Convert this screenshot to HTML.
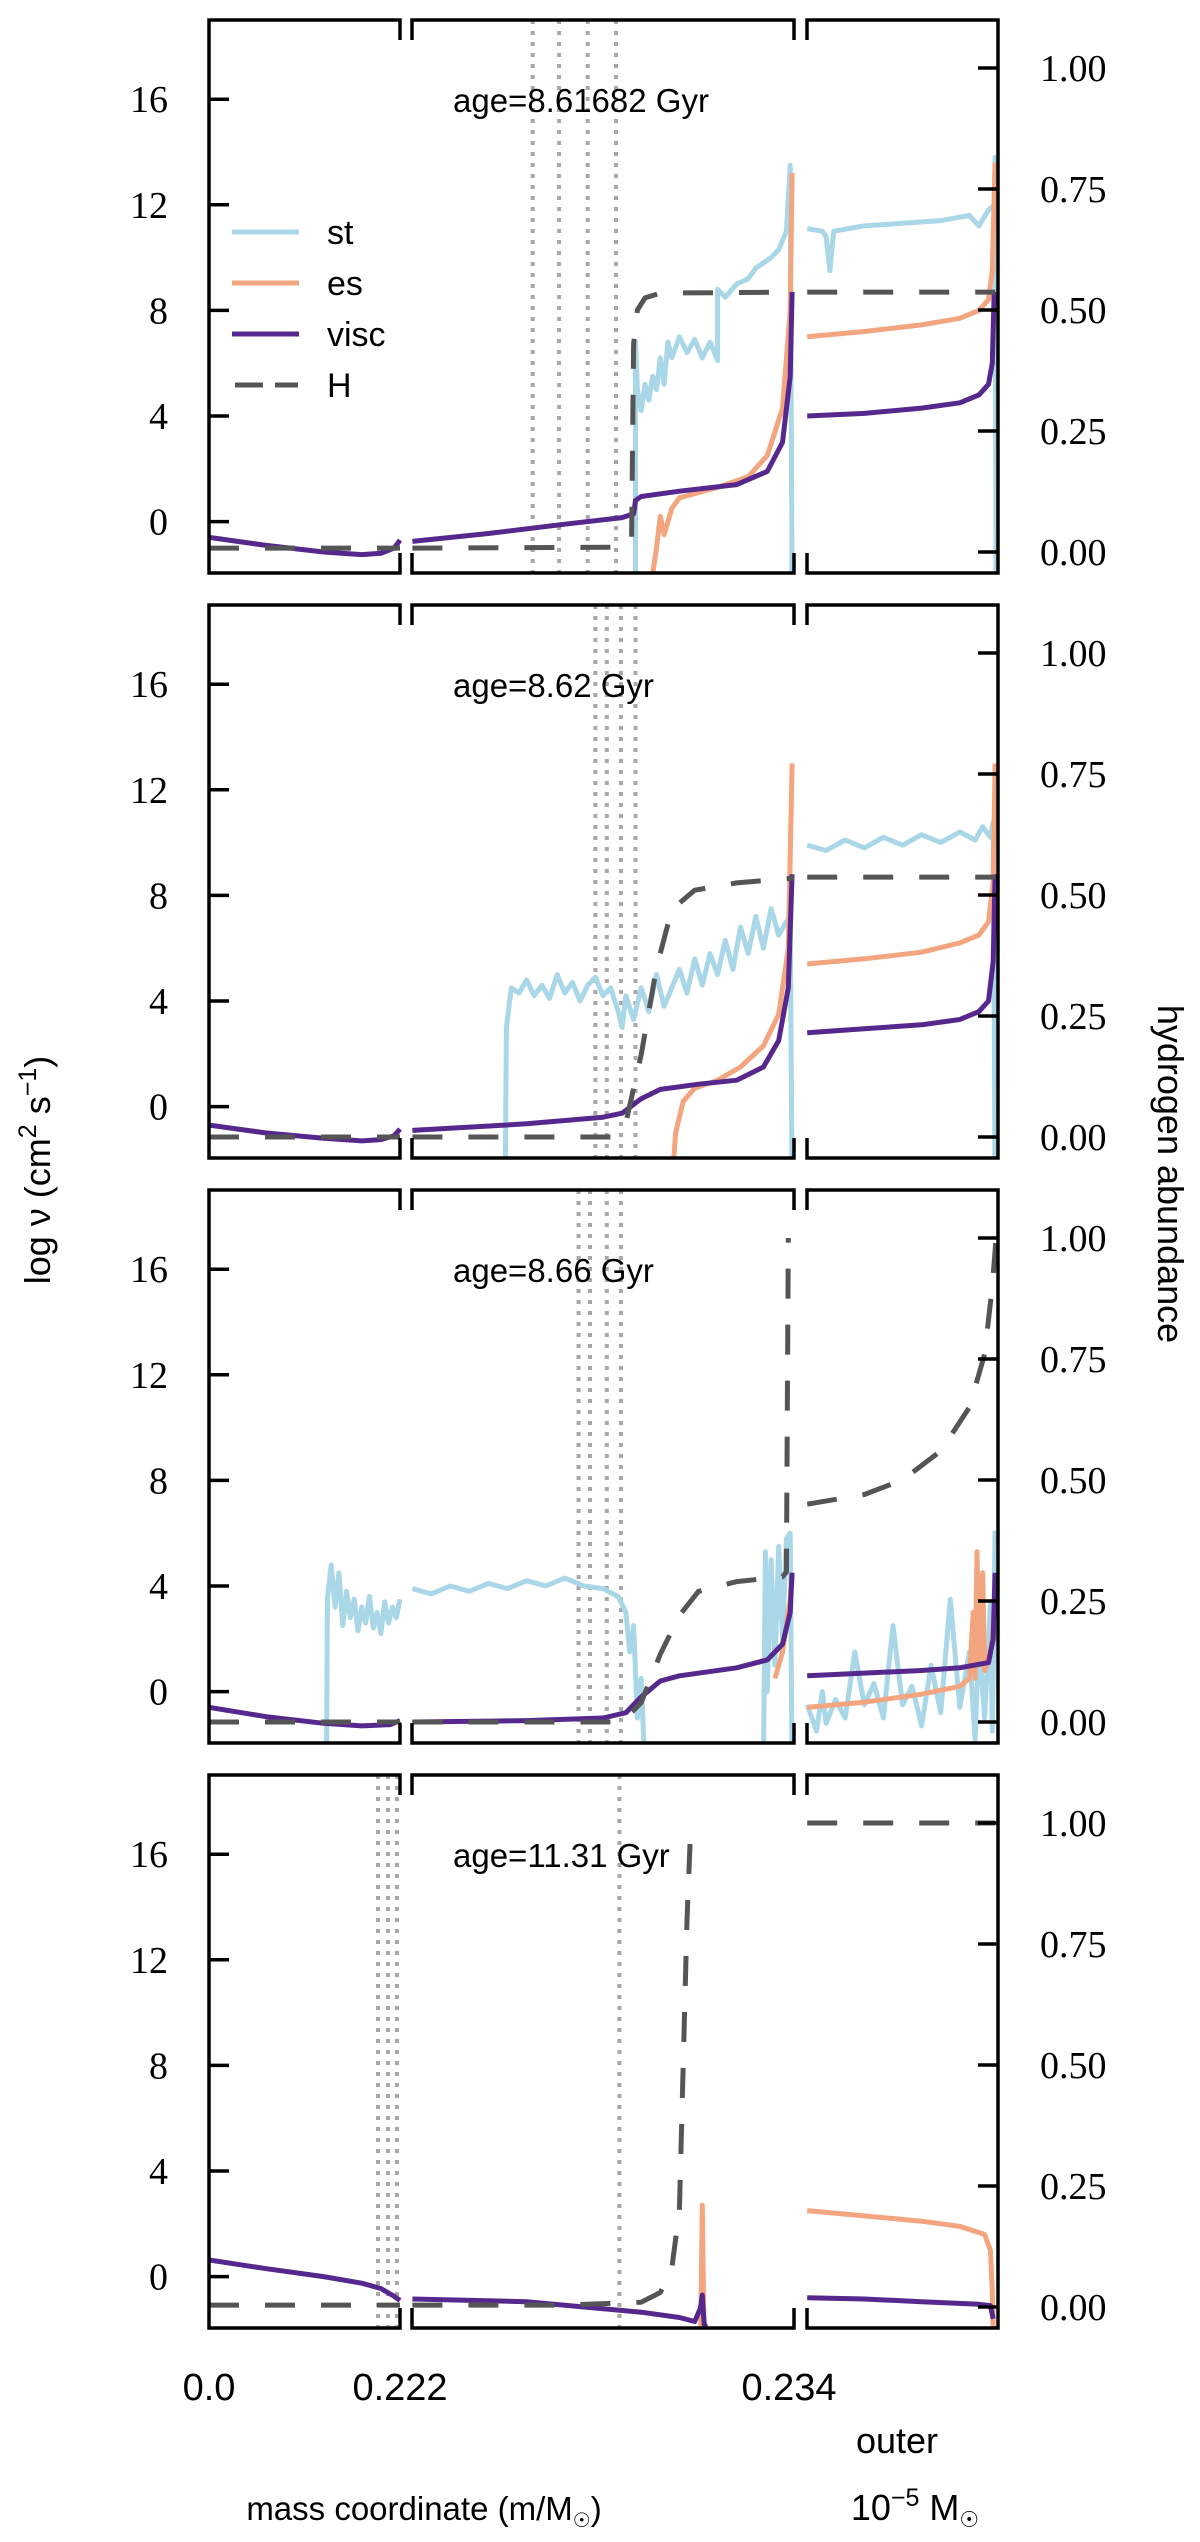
<!DOCTYPE html>
<html><head><meta charset="utf-8"><style>
html,body{margin:0;padding:0;background:#fff;}
svg{display:block;}
.tk{font-family:"Liberation Serif","DejaVu Serif",serif;font-size:38px;fill:#000;}
.sn{font-family:"Liberation Sans","DejaVu Sans",sans-serif;fill:#000;}
</style></head><body>
<svg id="chart" width="1200" height="2542" viewBox="0 0 1200 2542" xmlns="http://www.w3.org/2000/svg"></svg>
<script>
const NS="http://www.w3.org/2000/svg";
const svg=document.getElementById('chart');
const PANEL_TOPS=[20,605,1190,1775];
const PH=553, UNIT=26.4, YMAXL=19, HPX=484;
// ---- data ----
const AGE_LABELS=["age=8.61682 Gyr","age=8.62 Gyr","age=8.66 Gyr","age=11.31 Gyr"];
const LEFT_TICKS=[0,4,8,12,16];
const RIGHT_TICKS=[0,0.25,0.5,0.75,1.0];
const RIGHT_TICK_LABELS=["0.00","0.25","0.50","0.75","1.00"];
const X_TICKS=[0,1,2];
const X_TICK_LABELS=["0.0","0.222","0.234"];
const SERIES_NAMES=["st","es","visc","H"];
const DOTTED=[[1.316,1.385,1.46,1.534],[1.48,1.51,1.547,1.585],[1.436,1.466,1.51,1.547],[0.885,0.937,0.984,1.543]];

const P1_VISC=[[0,-0.6],[0.3,-0.9],[0.6,-1.15],[0.8,-1.25],[0.9,-1.2],[0.97,-1.0],[1,-0.7],null,[1.001,-0.75],[1.2,-0.45],[1.4,-0.1],[1.55,0.15],[1.58,0.3],[1.585,0.8],[1.6,0.95],[1.7,1.15],[1.85,1.4],[1.93,1.9],[1.97,3],[1.99,5.5],[1.995,8.7],null,[2.001,4.0],[2.3,4.1],[2.6,4.3],[2.8,4.5],[2.9,4.8],[2.95,5.2],[2.97,6],[2.98,8.7]];
const P1_ES=[[1.62,-3],[1.64,-1],[1.65,0.2],[1.66,-0.5],[1.68,0.5],[1.7,0.9],[1.75,1.1],[1.8,1.3],[1.88,1.7],[1.93,2.5],[1.97,4.3],[1.99,8],[1.995,13.2],null,[2.001,7.0],[2.3,7.2],[2.6,7.45],[2.8,7.7],[2.9,8.0],[2.95,8.4],[2.97,9.5],[2.985,13.6]];
const P1_ST=[[1.585,-3],[1.585,6.8],[1.59,5],[1.6,4.2],[1.61,5.2],[1.62,4.6],[1.63,5.5],[1.64,5],[1.65,6.2],[1.66,5.2],[1.67,6.8],[1.68,6.2],[1.7,7],[1.72,6.4],[1.74,6.9],[1.76,6.2],[1.78,6.8],[1.8,6.1],[1.8,8.8],[1.82,8.5],[1.85,9],[1.88,9.2],[1.9,9.6],[1.92,9.8],[1.94,10],[1.96,10.3],[1.98,11],[1.99,13.5],[1.995,-3],null,[2.001,11.1],[2.08,11],[2.1,10.8],[2.12,9.5],[2.14,11],[2.3,11.2],[2.5,11.3],[2.7,11.4],[2.85,11.6],[2.9,11.2],[2.95,11.8],[2.98,12],[2.985,13.8],[2.99,-3]];
const P1_H=[[0,0.008],[1,0.008],null,[1.001,0.008],[1.55,0.01],[1.575,0.03],[1.58,0.43],[1.59,0.5],[1.61,0.525],[1.65,0.535],[2,0.537],null,[2.001,0.537],[2.985,0.537]];

const P2_VISC=[[0,-0.7],[0.3,-1.0],[0.6,-1.2],[0.8,-1.3],[0.9,-1.25],[0.97,-1.1],[1,-0.85],null,[1.001,-0.9],[1.3,-0.65],[1.5,-0.4],[1.55,-0.25],[1.6,0.3],[1.65,0.65],[1.75,0.85],[1.85,1.0],[1.92,1.5],[1.96,2.5],[1.985,4.5],[1.995,8.8],null,[2.001,2.8],[2.3,2.95],[2.6,3.1],[2.8,3.3],[2.9,3.6],[2.95,4.0],[2.975,5.5],[2.985,8.8]];
const P2_ES=[[1.68,-3],[1.69,-1],[1.71,0.2],[1.74,0.7],[1.8,1.0],[1.86,1.5],[1.92,2.3],[1.96,3.5],[1.985,6],[1.995,13],null,[2.001,5.4],[2.3,5.6],[2.6,5.85],[2.8,6.2],[2.9,6.5],[2.95,7.0],[2.975,8.5],[2.985,13]];
const P2_ST=[[1.244,-3],[1.247,3],[1.26,4.5],[1.28,4.3],[1.3,4.8],[1.32,4.2],[1.34,4.6],[1.36,4.1],[1.38,5.0],[1.4,4.3],[1.42,4.7],[1.44,4.0],[1.46,4.6],[1.48,4.9],[1.5,4.2],[1.52,4.5],[1.54,3.6],[1.55,3.0],[1.56,4.2],[1.58,3.3],[1.6,4.5],[1.62,3.6],[1.64,5],[1.66,3.8],[1.68,4.5],[1.7,5.2],[1.72,4.3],[1.74,5.6],[1.76,4.6],[1.78,5.8],[1.8,5.0],[1.82,6.3],[1.84,5.2],[1.86,6.8],[1.88,5.8],[1.9,7.2],[1.92,6.0],[1.94,7.5],[1.96,6.5],[1.98,7.0],[1.99,7.2],[1.995,-3],null,[2.001,9.9],[2.1,9.7],[2.2,10.1],[2.3,9.8],[2.4,10.2],[2.5,9.9],[2.6,10.3],[2.7,10.0],[2.8,10.4],[2.88,10.1],[2.92,10.6],[2.96,10.2],[2.975,10.8],[2.985,-3]];
const P2_H=[[0,0.0],[1,0],null,[1.001,0],[1.52,0.0],[1.56,0.03],[1.6,0.17],[1.64,0.35],[1.68,0.47],[1.74,0.51],[1.85,0.525],[2,0.535],null,[2.001,0.537],[2.985,0.537]];

const P3_VISC=[[0,-0.6],[0.3,-0.95],[0.6,-1.2],[0.8,-1.3],[0.95,-1.25],[1,-1.1],null,[1.001,-1.15],[1.3,-1.1],[1.5,-1.0],[1.56,-0.8],[1.6,-0.2],[1.65,0.4],[1.7,0.6],[1.85,0.9],[1.93,1.2],[1.97,1.8],[1.99,3],[1.995,4.5],null,[2.001,0.6],[2.3,0.7],[2.6,0.8],[2.8,0.9],[2.95,1.1],[2.975,2],[2.985,4.5]];
const P3_ES=[[1.95,0.5],[1.97,1.5],[1.99,3.5],[1.995,4.5],null,[2.001,-0.6],[2.3,-0.4],[2.6,-0.1],[2.8,0.2],[2.85,0.5],[2.87,3],[2.88,0.5],[2.89,5.3],[2.9,1],[2.92,4.5],[2.93,0.8],[2.95,1.2],[2.97,2],[2.985,4]];
const P3_ST=[[0.615,-3],[0.62,3.5],[0.64,4.8],[0.66,3.2],[0.68,4.5],[0.7,2.5],[0.72,3.8],[0.74,2.8],[0.76,3.5],[0.78,2.3],[0.8,3.2],[0.82,2.6],[0.84,3.6],[0.86,2.4],[0.88,3.0],[0.9,2.2],[0.92,3.4],[0.94,2.6],[0.96,3.2],[0.98,2.8],[1,3.5],null,[1.001,3.9],[1.05,3.7],[1.1,4.0],[1.15,3.8],[1.2,4.1],[1.25,3.9],[1.3,4.2],[1.35,4.0],[1.4,4.3],[1.45,4.0],[1.5,3.9],[1.54,3.6],[1.56,3.0],[1.57,1.5],[1.58,2.5],[1.59,-1],[1.6,0.5],[1.61,-3],null,[1.92,-3],[1.925,5.3],[1.93,0],[1.94,5],[1.95,1],[1.96,5.5],[1.97,2],[1.98,5.8],[1.99,6],[1.995,-3],null,[2.001,-0.5],[2.05,-1.5],[2.08,0],[2.1,-1.2],[2.15,-0.3],[2.2,-1],[2.25,1.5],[2.3,-0.5],[2.35,0.3],[2.4,-1],[2.45,2.5],[2.5,-0.5],[2.55,0.2],[2.6,-1.3],[2.65,1],[2.7,-0.8],[2.75,3.5],[2.8,-0.6],[2.85,1.5],[2.88,-1.8],[2.9,2],[2.93,-1],[2.96,3.3],[2.97,-1.5],[2.985,6.1]];
const P3_H=[[0,0],[1,0],null,[1.001,0],[1.55,0.0],[1.6,0.04],[1.65,0.14],[1.7,0.22],[1.75,0.27],[1.85,0.29],[1.97,0.3],[1.98,0.31],[1.985,1.0],null,[2.001,0.45],[2.3,0.47],[2.5,0.5],[2.7,0.56],[2.85,0.65],[2.93,0.76],[2.97,0.9],[2.99,1.0]];

const P4_VISC=[[0,0.63],[0.3,0.3],[0.6,0.0],[0.8,-0.25],[0.9,-0.45],[0.97,-0.75],[1,-0.9],null,[1.001,-0.85],[1.3,-0.95],[1.6,-1.35],[1.7,-1.55],[1.74,-1.7],[1.755,-1.2],[1.76,-0.7],[1.765,-1.8],[1.77,-1.9],null,[2.001,-0.8],[2.3,-0.85],[2.6,-0.95],[2.9,-1.05],[2.96,-1.1],[2.975,-1.6]];
const P4_ES=[[1.755,-3],[1.76,2.7],[1.765,-3],null,[2.001,2.5],[2.3,2.3],[2.6,2.1],[2.8,1.9],[2.93,1.6],[2.96,1.0],[2.97,-0.5],[2.975,-2]];
const P4_ST=[];
const P4_H=[[0,0.004],[1,0.004],null,[1.001,0.004],[1.4,0.004],[1.6,0.01],[1.65,0.03],[1.68,0.08],[1.7,0.2],[1.71,0.5],[1.72,0.8],[1.73,1.0],null,[2.001,1.0],[2.985,1.0]];

const PANELS=[[P1_ST,P1_ES,P1_VISC,P1_H],[P2_ST,P2_ES,P2_VISC,P2_H],[P3_ST,P3_ES,P3_VISC,P3_H],[P4_ST,P4_ES,P4_VISC,P4_H]];

function X(u){ if(u<=1) return 209+u*191; if(u<=2) return 412+(u-1)*382; return 807+(u-2)*191; }
function YL(p,v){ return PANEL_TOPS[p]+(YMAXL-v)*UNIT; }
function YR(p,h){ return PANEL_TOPS[p]+48+(1-h)*HPX; }

function mk(tag,attrs,parent){ const e=document.createElementNS(NS,tag); for(const k in attrs) e.setAttribute(k,attrs[k]); (parent||svg).appendChild(e); return e; }
function pathFrom(arr,p,right){ let d='',pen=false; for(const pt of arr){ if(!pt){pen=false;continue;} const x=X(pt[0]).toFixed(1), y=(right?YR(p,pt[1]):YL(p,pt[1])).toFixed(1); d+=(pen?'L':'M')+x+' '+y; pen=true; } return d; }

const COLORS={st:"#a9d7e8",es:"#f3a580",visc:"#56288e",H:"#555555"};
const defs=mk('defs',{});

PANELS.forEach((series,p)=>{
  const top=PANEL_TOPS[p], bot=top+PH;
  const g=mk('g',{});
  
  
  const cp=mk('clipPath',{id:'clip'+p},defs);
  mk('rect',{x:209,y:top,width:789,height:PH},cp);
  DOTTED[p].forEach(u=>{
    const l=mk('line',{x1:X(u),x2:X(u),y1:top,y2:bot,stroke:'#a8a8a8','stroke-width':4,'stroke-dasharray':'4 7'},g);
    
    
  });
  const cg=mk('g',{'clip-path':'url(#clip'+p+')'},g);
  SERIES_NAMES.forEach((nm,i)=>{
    const arr=series[i]; if(!arr.length) return;
    const a={d:pathFrom(arr,p,nm==='H'),fill:'none',stroke:COLORS[nm],'stroke-width':5,'stroke-linejoin':'round'};
    if(nm==='H'){a['stroke-dasharray']='30 26';}
    const el=mk('path',a,cg);
    
    
  });
  const fr=mk('g',{stroke:'#000','stroke-width':3.5,fill:'none'},g);
  
  
  mk('path',{d:`M400 ${top+20}V${top}H209V${bot}H400V${bot-20}`},fr);
  mk('path',{d:`M412 ${top+20}V${top}H794V${top+20}M412 ${bot-20}V${bot}H794V${bot-20}`},fr);
  mk('path',{d:`M807 ${top+20}V${top}H998V${bot}H807V${bot-20}`},fr);
  LEFT_TICKS.forEach(v=>{
    const y=YL(p,v);
    mk('line',{x1:209,x2:229,y1:y,y2:y},fr);
    const t=mk('text',{x:168,y:y+13,'text-anchor':'end',class:'tk'},g);
    t.textContent=String(v);
    
    
  });
  RIGHT_TICKS.forEach((h,i)=>{
    const y=YR(p,h);
    mk('line',{x1:978,x2:998,y1:y,y2:y},fr);
    const t=mk('text',{x:1040,y:y+13,class:'tk'},g);
    t.textContent=RIGHT_TICK_LABELS[i];
    
    
  });
  const at=mk('text',{x:453,y:top+92,class:'sn','font-size':33},g);
  at.textContent=AGE_LABELS[p];
  
  
});

const lg=mk('g',{});


SERIES_NAMES.forEach((nm,i)=>{
  const y=232+i*51;
  const a={x1:232,x2:299,y1:y,y2:y,stroke:COLORS[nm],'stroke-width':5};
  if(nm==='H'){a['stroke-dasharray']='28 12';a.x1=235;a.x2=298;}
  const l=mk('line',a,lg);
  
  
  const t=mk('text',{x:327,y:y+12,class:'sn','font-size':34},lg);
  t.textContent=nm;
  
  
});

X_TICKS.forEach((u,i)=>{
  const t=mk('text',{x:X(u)+(i===2?-5:0),y:2400,'text-anchor':'middle',class:'sn','font-size':38});
  t.textContent=X_TICK_LABELS[i];
  
  
});
</script>
<div style="position:absolute;left:0;top:0;width:1200px;height:2542px;pointer-events:none;">
<svg width="1200" height="2542" xmlns="http://www.w3.org/2000/svg">
<text x="897" y="2453" text-anchor="middle" font-family="Liberation Sans, sans-serif" font-size="36">outer</text>
<text x="915" y="2520" text-anchor="middle" font-family="Liberation Sans, sans-serif" font-size="36">10<tspan dy="-14" font-size="25">−5</tspan><tspan dy="14"> M</tspan><tspan font-size="22" dy="7">☉</tspan></text>
<text x="424" y="2520" text-anchor="middle" font-family="Liberation Sans, sans-serif" font-size="33">mass coordinate (m/M<tspan font-size="20" dy="7">☉</tspan><tspan dy="-7">)</tspan></text>
<text transform="translate(50,1170) rotate(-90)" text-anchor="middle" font-family="Liberation Sans, sans-serif" font-size="36">log ν (cm<tspan dy="-14" font-size="25">2</tspan><tspan dy="14"> s</tspan><tspan dy="-14" font-size="25">−1</tspan><tspan dy="14">)</tspan></text>
<text transform="translate(1158,1174) rotate(90)" text-anchor="middle" font-family="Liberation Sans, sans-serif" font-size="36">hydrogen abundance</text>
</svg>
</div>
</body></html>
